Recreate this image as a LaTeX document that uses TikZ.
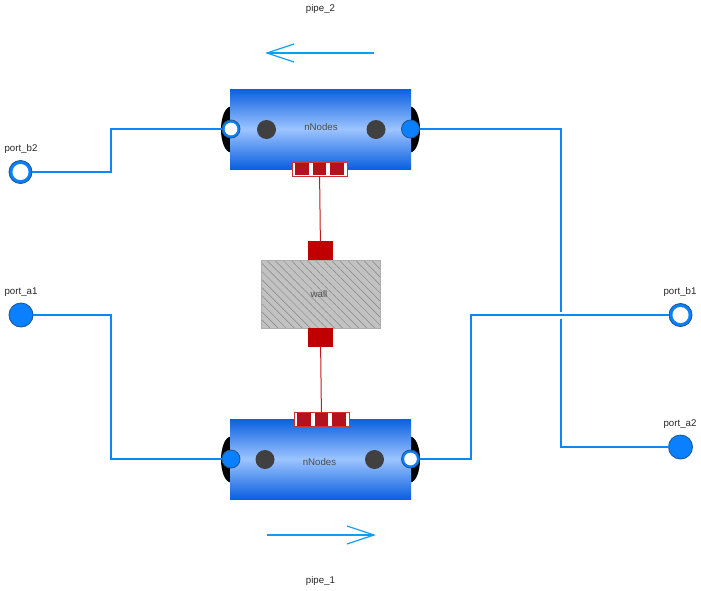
\documentclass[tikz,border=0pt]{standalone}
\usepackage{fontspec}
\setmainfont{Liberation Sans}
\usetikzlibrary{patterns.meta,shapes.geometric}
\definecolor{flowblue}{HTML}{0F86F5}
\definecolor{portblue}{HTML}{0A80FF}
\definecolor{portedge}{HTML}{1F5A96}
\definecolor{pipeedge}{HTML}{0B5FE0}
\definecolor{pipemid}{HTML}{9CC4FF}
\definecolor{heatred}{HTML}{C00000}
\definecolor{cellred}{HTML}{B5121B}
\tikzset{
	flowline/.style={line width=1.6pt, color=flowblue},
	heatline/.style={line width=1pt, color=heatred!90!white},
	dirarrow/.style={line width=1.2pt, color=flowblue!80!cyan},
	label/.style={font=\fontsize{9.7}{11}\selectfont, text=black!85, inner sep=0pt},
	inlabel/.style={font=\fontsize{9.7}{11}\selectfont, text=black!70, inner sep=0pt},
	portin/.style={circle, inner sep=0pt, outer sep=0pt, minimum size=#1, fill=portblue, draw=portedge, line width=0.9pt},
	portout/.style={portin=#1, path picture={\fill[white] (path picture bounding box.center) circle (#1*0.35);}},
	pipebody/.style={rectangle, inner sep=0pt, outer sep=0pt, minimum width=181, minimum height=80, top color=pipeedge, bottom color=pipeedge, middle color=pipemid},
	lens/.style={ellipse, fill=black, inner sep=0pt, minimum width=20, minimum height=46},
	dot/.style={circle, fill=black!75, inner sep=0pt, minimum size=19},
	heatbar/.style={rectangle, inner sep=0pt, outer sep=0pt, minimum width=55, minimum height=14, fill=white, draw=heatred!80!white, line width=0.7pt},
	heatcell/.style={rectangle, inner sep=0pt, minimum width=13.5, minimum height=12.6, fill=cellred},
	heatport/.style={rectangle, inner sep=0pt, outer sep=0pt, minimum width=25, minimum height=18.5, fill=heatred},
	wallbox/.style={rectangle, inner sep=0pt, outer sep=0pt, minimum width=119, minimum height=68, draw=black!32, line width=0.9pt,
		preaction={fill=black!24}, pattern={Lines[angle=-45,distance=5.7pt,line width=0.5pt]}, pattern color=black!48},
}

\begin{document}
\begin{tikzpicture}[x=1pt, y=-1pt]
	\useasboundingbox (0, 0) rectangle (701, 590);

	%%%%% pipes %%%%%
	\node[lens] at (231, 129.5) {};
	\node[lens] at (410, 129.5) {};
	\node[pipebody] (pipe2) at (320.5, 129) {};
	\node[lens] at (231, 459.5) {};
	\node[lens] at (410, 459.5) {};
	\node[pipebody] (pipe1) at (320.5, 459) {};

	\node[inlabel] (nodes2) at (321, 127.5) {nNodes};
	\node[inlabel] (nodes1) at (319.5, 462.5) {nNodes};

	\node[dot] (dot2a) at (266.5, 129.5) {};
	\node[dot] (dot2b) at (376, 129.5) {};
	\node[dot] (dot1a) at (265, 459.5) {};
	\node[dot] (dot1b) at (374.5, 459.5) {};

	%%%%% ports %%%%%
	\node[portout=18] (pipe2left) at (231, 129) {};
	\node[portin=18] (pipe2right) at (410.5, 129) {};
	\node[portin=18] (pipe1left) at (231, 459) {};
	\node[portout=18] (pipe1right) at (410.5, 459) {};

	\node[portout=23] (portb2) at (20.5, 172) {};
	\node[portin=24] (porta1) at (21, 315) {};
	\node[portout=23] (portb1) at (680.5, 315) {};
	\node[portin=24] (porta2) at (680.5, 447) {};

	\node[label] (labelb2) at (21, 149) {port\_b2};
	\node[label] (labela1) at (21, 292) {port\_a1};
	\node[label] (labelb1) at (680, 292) {port\_b1};
	\node[label] (labela2) at (680, 424) {port\_a2};
	\node[label] (label2) at (320.5, 9) {pipe\_2};
	\node[label] (label1) at (320.5, 581) {pipe\_1};

	%%%%% wall %%%%%
	\node[wallbox] (wall) at (320.5, 294) {};
	\node[inlabel] (walltext) at (319, 294.5) {wall};
	\node[heatport] (heattop) at (320.5, 250.5) {};
	\node[heatport] (heatbot) at (320.5, 337.5) {};

	\node[heatbar] (bar2) at (319.5, 169) {};
	\node[heatbar] (bar1) at (321.5, 419.5) {};
	\foreach \cx in {-17.5, 0, 17.5} {
		\node[heatcell] at ([xshift=\cx]bar2.center) {};
		\node[heatcell] at ([xshift=\cx]bar1.center) {};
	}

	\draw[heatline] (bar2) -- (heattop);
	\draw[heatline] (heatbot) -- (bar1);

	%%%%% flow %%%%%
	\draw[flowline] (portb2) -- (111, 172) |- (pipe2left);
	\draw[flowline] (pipe2right) -- (561, 129) |- (porta2);
	\draw[flowline] (porta1) -- (111, 315) |- (pipe1left);
	\draw[flowline, preaction={draw=white, line width=7pt}] (pipe1right) -- (471, 459) |- (portb1);

	%%%%% direction arrows %%%%%
	\coordinate (arrow2a) at (374, 53);
	\coordinate (arrow2b) at (267, 53);
	\coordinate (arrow1a) at (267, 535);
	\coordinate (arrow1b) at (374, 535);
	\draw[dirarrow] (arrow2a) -- (arrow2b);
	\draw[dirarrow] (294, 44) -- (arrow2b) -- (294, 62);
	\draw[dirarrow] (arrow1a) -- (arrow1b);
	\draw[dirarrow] (347, 526) -- (arrow1b) -- (347, 544);
\end{tikzpicture}
\end{document}
